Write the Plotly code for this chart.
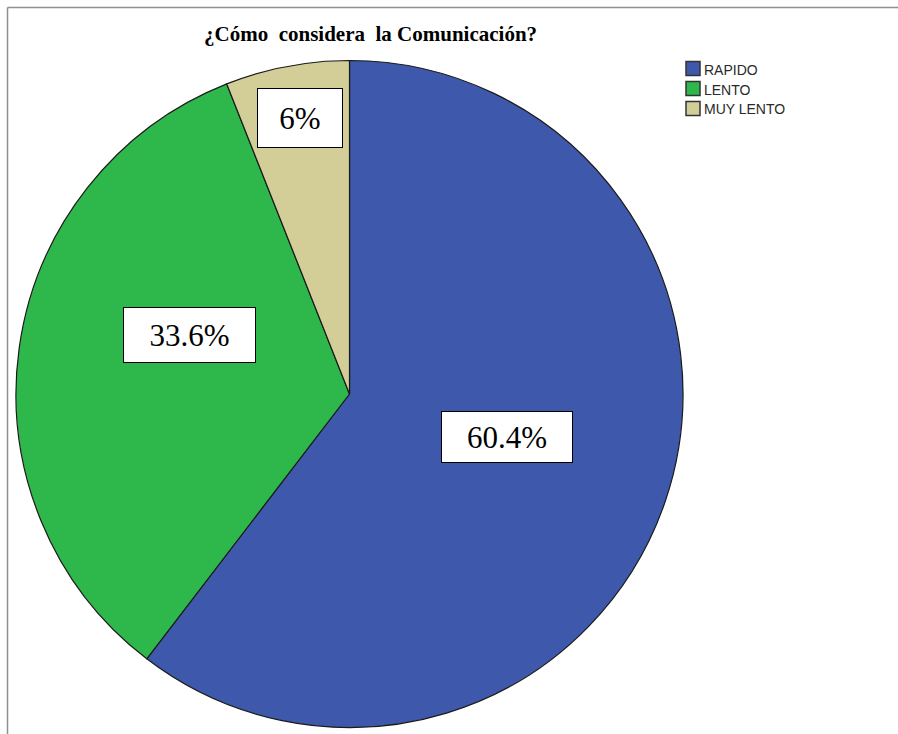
import plotly.graph_objects as go

# Survey answers: how fast is communication perceived
categories = ["RAPIDO", "LENTO", "MUY LENTO"]
percentages = [60.4, 33.6, 6]
colors = ["#3E58AC", "#2EB84B", "#D3CE98"]

W, H = 898, 734
cx, cy, r = 349.5, 394.0, 333.5

fig = go.Figure(
    go.Pie(
        labels=categories,
        values=percentages,
        sort=False,
        direction="clockwise",
        rotation=0,
        textinfo="none",
        hoverinfo="label+percent",
        showlegend=False,
        marker=dict(colors=colors, line=dict(color="#1a1a1a", width=1.2)),
        domain=dict(
            x=[(cx - r) / W, (cx + r) / W],
            y=[1 - (cy + r) / H, 1 - (cy - r) / H],
        ),
    )
)

SERIF = "Liberation Serif"
SANS = "Liberation Sans"

# Boxed value labels placed over the slices (centre pixel positions, box sizes)
label_boxes = [
    (507, 437, 130, 50),
    (189, 335, 131, 54),
    (299.5, 117.5, 84, 58),
]
annotations = []
for v, (lx, ly, bw, bh) in zip(percentages, label_boxes):
    annotations.append(
        dict(
            x=lx / W, y=1 - ly / H, xref="paper", yref="paper",
            xanchor="center", yanchor="middle",
            text=f"{v:g}%", showarrow=False,
            font=dict(family=SERIF, size=31, color="#000"),
            bgcolor="white", bordercolor="#000", borderwidth=1,
            width=bw, height=bh, borderpad=0,
        )
    )

annotations.append(
    dict(
        x=370 / W, y=1 - 34 / H, xref="paper", yref="paper",
        xanchor="center", yanchor="middle", showarrow=False,
        text="<b>¿Cómo\u00a0\u00a0considera\u00a0\u00a0la Comunicación?</b>",
        font=dict(family=SERIF, size=21, color="#000"),
    )
)

# Legend: square swatches with dark outline and category names
shapes = []
sw_x0, sw_size, first_top, step = 686, 14, 61.5, 20
for i, (name, col) in enumerate(zip(categories, colors)):
    top = first_top + i * step
    shapes.append(
        dict(type="rect", xref="paper", yref="paper",
             x0=sw_x0 / W, x1=(sw_x0 + sw_size) / W,
             y0=1 - (top + sw_size) / H, y1=1 - top / H,
             fillcolor=col, line=dict(color="#333333", width=1.5))
    )
    annotations.append(
        dict(x=(sw_x0 + sw_size + 2) / W, y=1 - (top + sw_size / 2 + 1) / H,
             xref="paper", yref="paper", xanchor="left", yanchor="middle",
             text=name, showarrow=False,
             font=dict(family=SANS, size=14, color="#2a2a2a"))
    )

# Outer frame (top and left edges)
shapes += [
    dict(type="line", xref="paper", yref="paper",
         x0=7.5 / W, x1=1, y0=1 - 7.5 / H, y1=1 - 7.5 / H,
         line=dict(color="#909090", width=1.5)),
    dict(type="line", xref="paper", yref="paper",
         x0=7.5 / W, x1=7.5 / W, y0=1 - 7.5 / H, y1=0,
         line=dict(color="#909090", width=1.5)),
]

fig.update_layout(
    width=W, height=H,
    margin=dict(l=0, r=0, t=0, b=0),
    paper_bgcolor="white", plot_bgcolor="white",
    annotations=annotations,
    shapes=shapes,
    showlegend=False,
)

fig.write_html("out.html")
